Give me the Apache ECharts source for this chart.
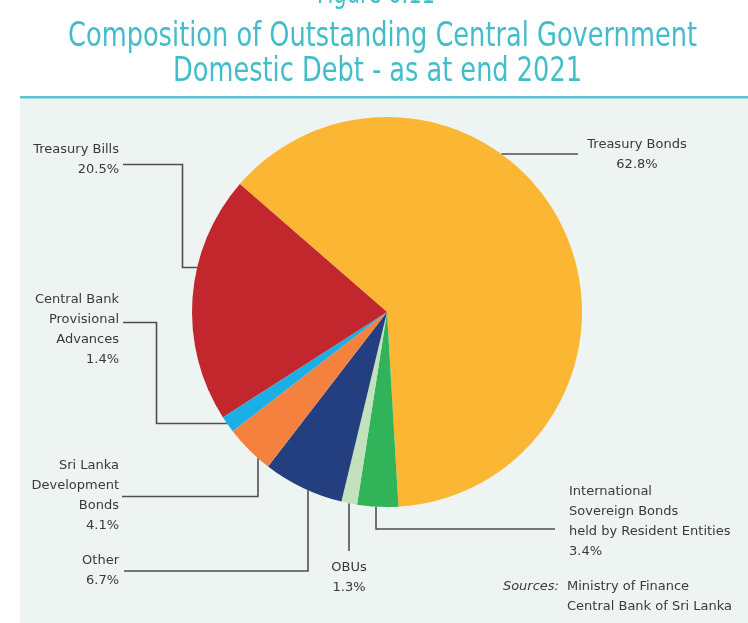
<!DOCTYPE html>
<html>
<head>
<meta charset="utf-8">
<script src="https://cdn.jsdelivr.net/npm/echarts@6/dist/echarts.min.js"></script>
<style>
  html, body { margin: 0; padding: 0; background: #ffffff; }
  #chart { width: 748px; height: 623px; }
</style>
</head>
<body>
<div id="chart"></div>
<script>
// Composition of outstanding central government domestic debt, end 2021 (% share)
const categories = [
  'Treasury Bonds',
  'International\nSovereign Bonds\nheld by Resident Entities',
  'OBUs',
  'Other',
  'Sri Lanka\nDevelopment\nBonds',
  'Central Bank\nProvisional\nAdvances',
  'Treasury Bills'
];
const shares = [62.8, 3.4, 1.3, 6.7, 4.1, 1.4, 20.5];
const sliceColors = ['#FBB733', '#31B35A', '#C3E1BA', '#243F80', '#F5813F', '#1CAFE5', '#C1272D'];

const figureLabel = 'Figure 6.11';
const titleLines = ['Composition of Outstanding Central Government', 'Domestic Debt - as at end 2021'];
const sourceLines = ['Ministry of Finance', 'Central Bank of Sri Lanka'];

// pie geometry
const CX = 387, CY = 312, R = 195;
const TEAL = '#43BDCA';
const INK = '#3a3a3a';
const LABEL_FONT = '"DejaVu Sans", sans-serif';
const TITLE_FAMILY = '"Liberation Sans Narrow", "DejaVu Sans Condensed", sans-serif';

// Title text is squeezed horizontally to a fixed line width
const measureCtx = document.createElement('canvas').getContext('2d');
function squeezedTitle(text, size, cx, cy, width) {
  const font = size + 'px ' + TITLE_FAMILY;
  measureCtx.font = font;
  const w = measureCtx.measureText(text).width;
  return {
    type: 'text', x: cx, y: cy, scaleX: width / w, scaleY: 1,
    style: { text: text, fill: TEAL, font: font, align: 'center', verticalAlign: 'middle' }
  };
}

// Label placement and elbow leader paths; the last segment runs to the pie rim.
// end: {h: y, side} -> horizontal run to rim at height y; {v: x} -> vertical run to lower rim at x
const labelPlacement = [
  { x: 637, y: 155, align: 'center', path: [[578, 154]], end: { h: 154, side: 1 } },
  { x: 569, y: 522, align: 'left',   path: [[555, 529], [376, 529]], end: { v: 376 } },
  { x: 349, y: 578, align: 'center', path: [[349, 551]], end: { v: 349 } },
  { x: 119, y: 571, align: 'right',  path: [[124, 571], [308, 571]], end: { v: 308 } },
  { x: 119, y: 496, align: 'right',  path: [[122, 496.5], [258, 496.5]], end: { v: 258 } },
  { x: 119, y: 330, align: 'right',  path: [[123, 322.5], [156.5, 322.5], [156.5, 423.5]], end: { h: 423.5, side: -1 } },
  { x: 119, y: 160, align: 'right',  path: [[123, 164.5], [182.5, 164.5], [182.5, 267.5]], end: { h: 267.5, side: -1 } }
];

function rimPoint(end) {
  if (end.h !== undefined) {
    const dy = end.h - CY;
    return [CX + end.side * Math.sqrt(R * R - dy * dy), end.h];
  }
  const dx = end.v - CX;
  return [end.v, CY + Math.sqrt(R * R - dx * dx)];
}

const chart = echarts.init(document.getElementById('chart'), null, { renderer: 'canvas' });

const option = {
  animation: false,
  backgroundColor: '#ffffff',
  graphic: [
    { type: 'rect', z: -10, shape: { x: 20, y: 98, width: 728, height: 525 }, style: { fill: '#EEF4F2' } },
    { type: 'rect', z: -9, shape: { x: 20, y: 96, width: 728, height: 2.5 }, style: { fill: '#5CC4CF' } },
    squeezedTitle(figureLabel, 30, 376, -5, 118),
    squeezedTitle(titleLines[0], 34, 382.5, 37, 629),
    squeezedTitle(titleLines[1], 34, 377.5, 72.5, 409),
    { type: 'text', x: 559, y: 587, style: { text: 'Sources:', fill: INK, font: 'italic 13px ' + LABEL_FONT, align: 'right', verticalAlign: 'middle' } },
    { type: 'text', x: 567, y: 587, style: { text: sourceLines[0], fill: INK, font: '13px ' + LABEL_FONT, align: 'left', verticalAlign: 'middle' } },
    { type: 'text', x: 567, y: 607, style: { text: sourceLines[1], fill: INK, font: '13px ' + LABEL_FONT, align: 'left', verticalAlign: 'middle' } }
  ],
  series: [{
    type: 'pie',
    center: [CX, CY],
    radius: R,
    startAngle: 139,
    clockwise: true,
    avoidLabelOverlap: false,
    emphasis: { disabled: true },
    itemStyle: { borderWidth: 0 },
    label: {
      show: true,
      position: 'outside',
      formatter: p => p.name + '\n' + p.value.toFixed(1) + '%',
      color: INK,
      fontFamily: LABEL_FONT,
      fontSize: 13,
      lineHeight: 20
    },
    labelLine: {
      show: true,
      lineStyle: { color: '#4f4f4f', width: 1.6 }
    },
    labelLayout: function (params) {
      const spec = labelPlacement[params.dataIndex];
      const pts = spec.path.map(p => p.slice());
      pts.push(rimPoint(spec.end));
      return {
        x: spec.x,
        y: spec.y,
        align: spec.align,
        verticalAlign: 'middle',
        labelLinePoints: pts
      };
    },
    data: categories.map((name, i) => ({
      name: name,
      value: shares[i],
      itemStyle: { color: sliceColors[i] }
    }))
  }]
};

chart.setOption(option);
</script>
</body>
</html>
